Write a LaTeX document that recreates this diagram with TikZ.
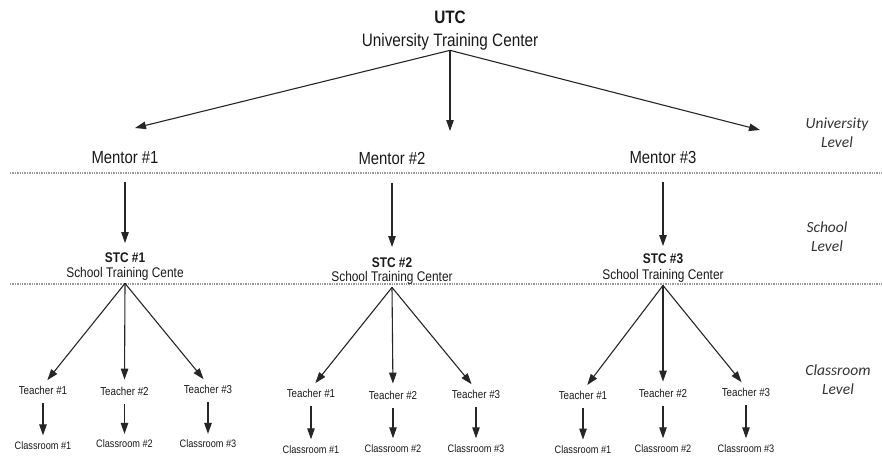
\documentclass[tikz,border=0pt]{standalone}
\usepackage{fontspec}
\setmainfont{Liberation Sans}
\newfontfamily\nar[FakeStretch=0.85]{Liberation Sans}
\newfontfamily\lvlfont{Carlito}
\usetikzlibrary{arrows.meta}
\tikzset{
  arr/.style={draw=black!85, line width=1.1pt, -{Triangle[length=11pt,width=7.5pt]}},
  sepline/.style={draw=gray!80, line width=1.4pt, densely dotted},
  base/.style={inner sep=0pt, anchor=base, text=black!90},
  utcb/.style={base, font=\nar\bfseries\fontsize{18}{20}\selectfont},
  utcn/.style={base, font=\nar\fontsize{18}{20}\selectfont},
  mentor/.style={base, font=\nar\fontsize{17.5}{20}\selectfont},
  stcb/.style={base, font=\nar\bfseries\fontsize{14}{16}\selectfont},
  stcn/.style={base, font=\nar\fontsize{14}{16}\selectfont, outer ysep=3.5pt},
  teacher/.style={base, font=\nar\fontsize{11.5}{13}\selectfont},
  classroom/.style={base, font=\nar\fontsize{10.8}{12}\selectfont},
  lvl/.style={align=center, inner sep=0pt, text=black!80, font=\lvlfont\itshape\fontsize{15.5}{19}\selectfont},
}
\begin{document}
\begin{tikzpicture}[x=1pt,y=-1pt]
\useasboundingbox (0,0) rectangle (882,456);

% separators
\draw[sepline] (10,173) -- (882,173);
\draw[sepline] (10,284) -- (882,284);

% level labels
\node[lvl] (lu) at (837,132.5) {University\\Level};
\node[lvl] (ls) at (827,236.5) {School\\Level};
\node[lvl] (lc) at (838,379.5) {Classroom\\Level};

% top
\node[utcb] (utc) at (450,23.4) {UTC};
\node[utcn] (utcsub) at (450,46.4) {University Training Center};

\node[mentor] (m1) at (125,163.3) {Mentor \#1};
\node[mentor] (m2) at (392,164.3) {Mentor \#2};
\node[mentor] (m3) at (663,163.3) {Mentor \#3};

\coordinate (m1in) at (135,128);
\coordinate (m2in) at (450,131);
\coordinate (m3in) at (760,130);
\draw[arr] (utcsub.south) -- (m1in);
\draw[arr] (utcsub.south) -- (m2in);
\draw[arr] (utcsub.south) -- (m3in);

% STC nodes
\node[stcb] (s1) at (125,262) {STC \#1};
\node[stcn] (s1b) at (125,277) {School Training Cente};
\node[stcb] (s2) at (392,267) {STC \#2};
\node[stcn] (s2b) at (392,281) {School Training Center};
\node[stcb] (s3) at (663,263) {STC \#3};
\node[stcn] (s3b) at (663,279) {School Training Center};

\draw[arr, shorten <=18pt, shorten >=9pt] (m1.south) -- (s1.north);
\draw[arr, shorten <=18pt, shorten >=10pt] (m2.south) -- (s2.north);
\draw[arr, shorten <=18pt, shorten >=7pt] (m3.south) -- (s3.north);

% teachers and classrooms
\node[teacher] (t11) at (43,394.1) {Teacher \#1};
\node[teacher] (t12) at (124.5,395.1) {Teacher \#2};
\node[teacher] (t13) at (208,393.1) {Teacher \#3};
\node[classroom] (c11) at (43,449.4) {Classroom \#1};
\node[classroom] (c12) at (124.5,447.9) {Classroom \#2};
\node[classroom] (c13) at (208,447.9) {Classroom \#3};

\node[teacher] (t21) at (311,397.1) {Teacher \#1};
\node[teacher] (t22) at (393,399.1) {Teacher \#2};
\node[teacher] (t23) at (476,398.1) {Teacher \#3};
\node[classroom] (c21) at (311,453.3) {Classroom \#1};
\node[classroom] (c22) at (393,452.3) {Classroom \#2};
\node[classroom] (c23) at (476,452.3) {Classroom \#3};

\node[teacher] (t31) at (583,399.1) {Teacher \#1};
\node[teacher] (t32) at (663,397.1) {Teacher \#2};
\node[teacher] (t33) at (746,396.1) {Teacher \#3};
\node[classroom] (c31) at (583,453.6) {Classroom \#1};
\node[classroom] (c32) at (663,452.3) {Classroom \#2};
\node[classroom] (c33) at (746,452.3) {Classroom \#3};

\foreach \g in {1,2,3}{
  \foreach \t in {1,2,3}{
    \draw[arr, shorten >=7pt] (s\g b.south) -- (t\g\t.north);
    \draw[arr, shorten <=9pt, shorten >=6pt] (t\g\t.south) -- (c\g\t.north);
  }
}
\end{tikzpicture}
\end{document}
